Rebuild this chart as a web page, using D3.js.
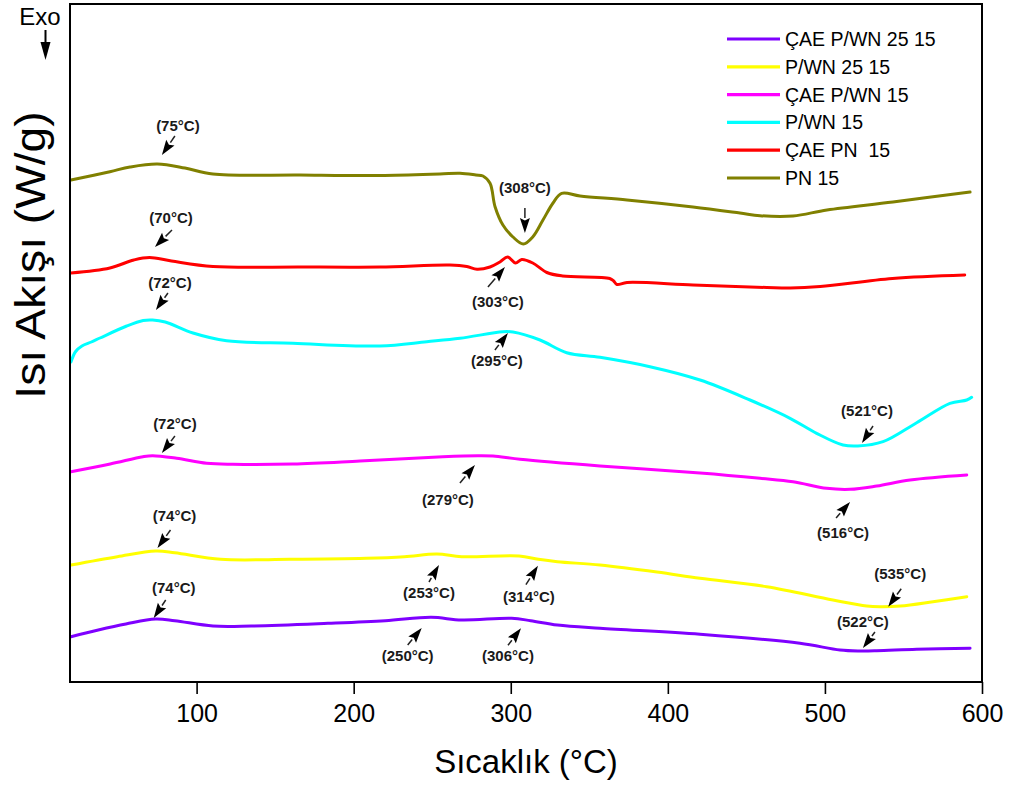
<!DOCTYPE html>
<html>
<head>
<meta charset="utf-8">
<script src="https://cdn.jsdelivr.net/npm/d3@7"></script>
<style>
  body { margin: 0; background: #ffffff; }
  svg { display: block; font-family: "Liberation Sans", Arial, sans-serif; }
</style>
</head>
<body>
<svg id="chart" width="1011" height="787"></svg>
<script>
// DSC heat-flow curves, [temperature °C, heat flow (offset, arbitrary units)]
const xTicks = [100, 200, 300, 400, 500, 600];

const seriesNames = ["ÇAE P/WN 25 15", "P/WN 25 15", "ÇAE P/WN 15", "P/WN 15", "ÇAE PN  15", "PN 15"];

const caePwn2515 = [
  [20, 4.53], [37.4, 5.2], [55, 5.8], [73.9, 6.3], [86.1, 6.13], [110.4, 5.6], [134.8, 5.6],
  [183.6, 5.87], [220.1, 6.13], [249.3, 6.47], [268.8, 6.2], [300.5, 6.37], [312.7, 6.13],
  [329.7, 5.7], [356.8, 5.37], [420.5, 4.77], [484.1, 3.87], [509.6, 3.2], [522, 3.1],
  [533, 3.12], [558.4, 3.27], [592.4, 3.37]
];

const pwn2515 = [
  [20, 11.7], [49.5, 12.53], [73.9, 13.1], [86.1, 12.93], [115.3, 12.27], [159.2, 12.27],
  [207.9, 12.37], [232.3, 12.53], [253, 12.8], [268.8, 12.53], [305.3, 12.6], [317.6, 12.27],
  [329.7, 12.03], [356.8, 11.7], [393.1, 11.0], [420.5, 10.37], [462.9, 9.53], [505.1, 8.2],
  [526.6, 7.6], [535, 7.53], [548, 7.6], [568.8, 8.03], [590.3, 8.53]
];

const caePwn15 = [
  [20, 21.03], [45, 21.8], [65.8, 22.53], [72, 22.63], [87.3, 22.37], [106.4, 21.87],
  [123.1, 21.77], [161.3, 21.8], [204, 22.1], [256.8, 22.53], [279, 22.63], [288.7, 22.6],
  [305.9, 22.27], [356.8, 21.6], [420.5, 20.9], [458.7, 20.37], [479.7, 20.03], [501.1, 19.37],
  [516, 19.27], [533, 19.6], [554.2, 20.2], [590.3, 20.7]
];

const pwn15 = [
  [20, 32.0], [23, 33.05], [27, 33.6], [33, 34.0], [38.5, 34.4], [55.5, 35.6], [66, 36.15],
  [72, 36.2], [80, 36.0], [97.7, 34.9], [119.1, 34.13], [161.3, 33.87], [216.7, 33.6],
  [246.5, 34.03], [267.7, 34.37], [295, 35.03], [301.4, 35.0], [318.6, 34.2], [335.6, 32.93],
  [356.8, 32.47], [388.6, 31.53], [420.5, 30.2], [452.3, 28.2], [477.8, 26.37], [494.7, 24.87],
  [511.5, 23.7], [521, 23.6], [537, 24.03], [558.4, 25.93], [579.6, 27.87], [590.3, 28.2],
  [593.4, 28.47]
];

const caePn15 = [
  [20, 40.9], [44.8, 41.4], [60, 42.2], [70, 42.45], [84, 42.1], [110.4, 41.55], [165.8, 41.5],
  [216.7, 41.5], [261.3, 41.7], [272, 41.55], [278.5, 41.27], [286.8, 41.5], [293.1, 42.0],
  [298, 42.5], [303, 41.9], [307, 42.25], [314, 41.9], [323, 40.95], [333, 40.6], [363, 40.35],
  [365.5, 40.1], [367.6, 39.75], [374, 39.95], [416, 39.7], [463, 39.45], [478, 39.4],
  [497, 39.55], [543, 40.35], [589, 40.7]
];

const pn15 = [
  [20, 50.2], [44.8, 51.03], [57.6, 51.5], [75, 51.8], [92.6, 51.4], [110.4, 50.8], [165.8, 50.7],
  [216.7, 50.65], [254.9, 50.8], [267.7, 50.87], [277.8, 50.7], [282.3, 50.6], [286.8, 49.87],
  [290, 47.53], [295, 45.7], [301.4, 44.5], [308, 43.8], [314.1, 44.53], [320.5, 46.2],
  [326.9, 47.9], [332.4, 48.87], [344.1, 48.6], [374, 48.2], [416, 47.5], [445.9, 46.9],
  [458.7, 46.63], [479.7, 46.6], [501.3, 47.2], [543.3, 48.0], [592.4, 49.0]
];

const seriesData = [caePwn2515, pwn2515, caePwn15, pwn15, caePn15, pn15];
const seriesColors = ["#7f00ff", "#ffff00", "#ff00ff", "#00ffff", "#ff0000", "#808000"];

// Peak / dip labels: stated temperature, point the arrow lands on [T, heat flow]
const peakTemps = [75, 308, 70, 303, 72, 295, 521, 72, 279, 516, 74, 253, 314, 74, 250, 306, 535, 522];
const arrowTips = [
  [77.9, 52.7], [309, 44.9], [73.5, 43.5], [296.3, 41.5], [74.1, 37.2], [298.2, 34.9],
  [523.6, 23.9], [77.9, 22.9], [277.2, 21.7], [516, 18.0], [75.1, 13.4], [254.3, 11.7],
  [317.3, 11.63], [72.7, 6.4], [243.3, 5.4], [306.5, 5.37], [540.3, 7.53], [524.2, 3.4]
];
// arrow tail and label offsets from the tip, in pixels: [tailDx, tailDy, textDx, textDy]
const calloutOffsets = [
  [13, -19, 16, -24], [0, -25, 0, -40], [17, -17, 16, -24], [-17, 20, -7, 40],
  [12, -17, 14, -22], [-13, 17, -11, 33], [11, -17, 5, -27], [13, -17, 13, -24],
  [-15, 18, -27, 40], [-14, 16, -7, 36], [13, -18, 17, -27], [-10, 17, -10, 33],
  [-12, 19, -9, 36], [12, -18, 20, -25], [-14, 17, -14, 33], [-13, 17, -13, 33],
  [13, -18, 12, -28], [12, -16, 0, -21]
];

const W = 1011, H = 787;
const plot = { left: 70, top: 4, right: 982, bottom: 682 };

const svg = d3.select("#chart");
svg.append("rect").attr("width", W).attr("height", H).attr("fill", "#ffffff");

const x = d3.scaleLinear().domain([19.4, 600]).range([plot.left, plot.right]);
const y = d3.scaleLinear().domain([0, 67.8]).range([plot.bottom, plot.top]);

// curves
const line = d3.line()
  .x(d => x(d[0]))
  .y(d => y(d[1]))
  .curve(d3.curveCatmullRom.alpha(0.5));

const curves = svg.append("g").attr("class", "curves");
seriesData.forEach((data, i) => {
  curves.append("path")
    .datum(data)
    .attr("d", line)
    .attr("fill", "none")
    .attr("stroke", seriesColors[i])
    .attr("stroke-width", 3)
    .attr("stroke-linejoin", "round")
    .attr("stroke-linecap", "round");
});

// frame
svg.append("rect")
  .attr("x", plot.left).attr("y", plot.top)
  .attr("width", plot.right - plot.left).attr("height", plot.bottom - plot.top)
  .attr("fill", "none").attr("stroke", "#000").attr("stroke-width", 2);

// x axis
const xAxis = svg.append("g")
  .attr("transform", `translate(0,${plot.bottom})`)
  .call(d3.axisBottom(x).tickValues(xTicks).tickSize(12).tickPadding(10).tickFormat(d3.format("d")));
xAxis.select(".domain").remove();
xAxis.selectAll(".tick line").attr("stroke", "#000").attr("stroke-width", 1.6);
xAxis.selectAll(".tick text")
  .attr("fill", "#000")
  .style("font-size", "25px")
  .style("font-family", "'Liberation Sans', Arial, sans-serif");

// axis titles
svg.append("text")
  .attr("x", 526).attr("y", 773)
  .attr("text-anchor", "middle")
  .style("font-size", "33px")
  .text("Sıcaklık (°C)");

svg.append("text")
  .attr("transform", "translate(45,255) rotate(-90) scale(1.1,1)")
  .attr("text-anchor", "middle")
  .style("font-size", "42px")
  .text("Isı Akışı (W/g)");

// Exo direction marker
svg.append("text")
  .attr("x", 40).attr("y", 25)
  .attr("text-anchor", "middle")
  .style("font-size", "24px")
  .text("Exo");
svg.append("line")
  .attr("x1", 45.5).attr("y1", 30).attr("x2", 45.5).attr("y2", 44)
  .attr("stroke", "#000").attr("stroke-width", 2);
svg.append("path")
  .attr("d", "M40.5,42 L50.5,42 L45.5,60 Z")
  .attr("fill", "#000");

// legend
const legend = svg.append("g");
seriesNames.forEach((name, i) => {
  const cy = 39 + i * 27.8;
  legend.append("line")
    .attr("x1", 727).attr("x2", 780).attr("y1", cy).attr("y2", cy)
    .attr("stroke", seriesColors[i]).attr("stroke-width", 3.2);
  legend.append("text")
    .attr("x", 785).attr("y", cy + 7)
    .style("font-size", "19.5px")
    .style("white-space", "pre")
    .attr("xml:space", "preserve")
    .text(name);
});

// peak callouts
const callouts = svg.append("g");
const headLen = 15, headHalf = 5;
peakTemps.forEach((t, i) => {
  const tip = [x(arrowTips[i][0]), y(arrowTips[i][1])];
  const off = calloutOffsets[i];
  const tail = [tip[0] + off[0], tip[1] + off[1]];
  const dx = tip[0] - tail[0], dy = tip[1] - tail[1];
  const len = Math.hypot(dx, dy);
  const ux = dx / len, uy = dy / len;
  const base = [tip[0] - ux * headLen, tip[1] - uy * headLen];
  callouts.append("line")
    .attr("x1", tail[0]).attr("y1", tail[1])
    .attr("x2", base[0]).attr("y2", base[1])
    .attr("stroke", "#222").attr("stroke-width", 1.5);
  callouts.append("path")
    .attr("d", `M${tip[0]},${tip[1]} L${base[0] - uy * headHalf},${base[1] + ux * headHalf} L${base[0] + ux * 2.5},${base[1] + uy * 2.5} L${base[0] + uy * headHalf},${base[1] - ux * headHalf} Z`)
    .attr("fill", "#000");
  callouts.append("text")
    .attr("x", tip[0] + off[2]).attr("y", tip[1] + off[3])
    .attr("text-anchor", "middle")
    .style("font-size", "15px")
    .style("font-weight", "bold")
    .attr("fill", "#1a1a1a")
    .text(`(${t}°C)`);
});
</script>
</body>
</html>
